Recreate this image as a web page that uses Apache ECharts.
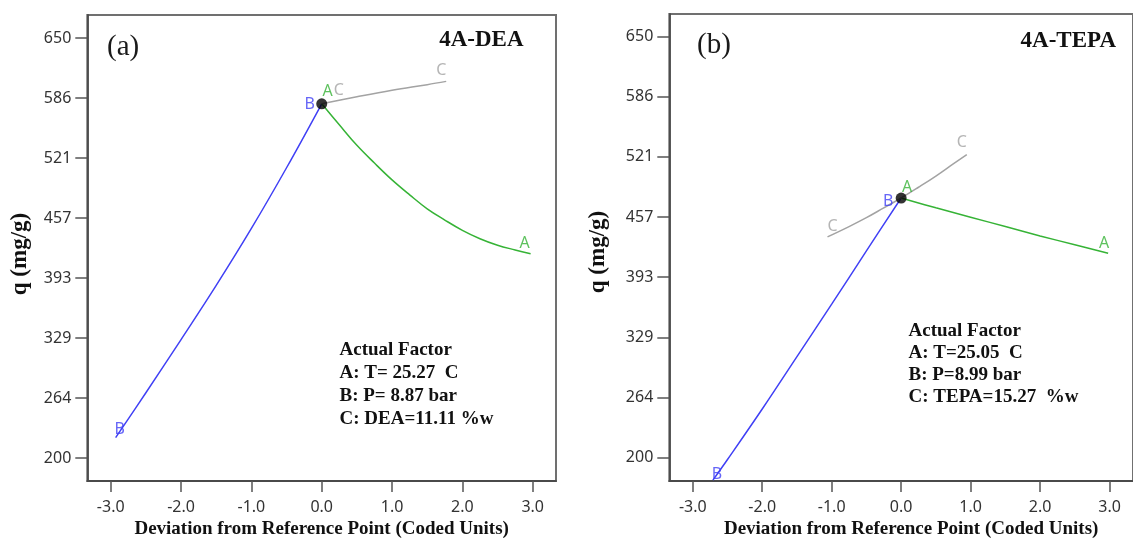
<!DOCTYPE html>
<html>
<head>
<meta charset="utf-8">
<script src="https://cdn.jsdelivr.net/npm/echarts@6/dist/echarts.min.js"></script>
<style>
  html, body { margin: 0; padding: 0; background: #fff; }
  #chart { width: 1133px; height: 544px; }
</style>
</head>
<body>
<div id="chart"></div>
<script>
// Perturbation plots: q (mg/g) vs deviation from the reference point (coded units)

// Axis ticks
const xTicks = [-3, -2, -1, 0, 1, 2, 3];
const yTickLabels = [200, 264, 329, 393, 457, 521, 586, 650];

// (a) 4A-DEA
const aB_x = [-2.93, -2.5, -2.0, -1.5, -1.0, -0.5, 0];
const aB_q = [222, 270, 327, 385, 446, 511, 579.5];
const aA_x = [0, 0.25, 0.5, 0.75, 1.0, 1.25, 1.5, 1.75, 2.0, 2.25, 2.5, 2.75, 2.97];
const aA_q = [579.5, 557, 535, 516, 498, 482, 467, 455, 444, 435, 428, 423, 419];
const aC_x = [0, 0.5, 1.0, 1.5, 1.77];
const aC_q = [579.5, 587, 594, 600, 603.5];
const aRef = [0, 579.5];
const aFactors = ['Actual Factor', 'A: T= 25.27  C', 'B: P= 8.87 bar', 'C: DEA=11.11 %w'];

// (b) 4A-TEPA
const bB_x = [-2.71, -2.5, -2.0, -1.5, -1.0, -0.5, 0];
const bB_q = [176, 198, 252, 308, 364, 421, 477.5];
const bA_x = [0, 0.5, 1.0, 1.5, 2.0, 2.5, 2.98];
const bA_q = [477.5, 467, 457, 447, 437, 427.5, 418.5];
const bC_x = [-1.06, -0.75, -0.5, -0.25, 0, 0.25, 0.5, 0.75, 0.945];
const bC_q = [436, 447, 456.5, 467, 477.5, 489, 501, 514, 524];
const bRef = [0, 477.5];
const bFactors = ['Actual Factor', 'A: T=25.05  C', 'B: P=8.99 bar', 'C: TEPA=15.27  %w'];

const COL = { A: '#36b336', B: '#4040f5', C: '#a3a3a3' };
const SERIF = '"Liberation Serif", "Times New Roman", serif';
const SANS = '"Noto Sans", "Open Sans", sans-serif';

const yTickValues = yTickLabels.map((_, i) =>
  yTickLabels[0] + i * (yTickLabels[yTickLabels.length - 1] - yTickLabels[0]) / (yTickLabels.length - 1));

const zip = (xs, ys) => xs.map((x, i) => [x, ys[i]]);

function xAxisFor(idx, min, max, shift) {
  return {
    type: 'value', gridIndex: idx, min: min, max: max,
    splitLine: { show: false },
    axisLine: { show: true, onZero: false, lineStyle: { color: '#4a4a4a', width: 1.8 } },
    axisTick: { show: true, customValues: xTicks, length: 11, lineStyle: { color: '#555', width: 1.5 } },
    axisLabel: { customValues: xTicks, margin: 18, color: '#333', fontFamily: SANS, fontSize: 16,
                 formatter: v => v.toFixed(1) },
    name: 'Deviation from Reference Point (Coded Units)',
    nameLocation: 'middle', nameGap: 36,
    nameTextStyle: { fontFamily: SERIF, fontWeight: 'bold', fontSize: 19, color: '#111',
                     padding: [0, 0, 0, shift] }
  };
}
function yAxisFor(idx, min, max) {
  return {
    type: 'value', gridIndex: idx, min: min, max: max,
    splitLine: { show: false },
    axisLine: { show: true, onZero: false, lineStyle: { color: '#4a4a4a', width: 1.8 } },
    axisTick: { show: true, customValues: yTickValues, length: 12, lineStyle: { color: '#555', width: 1.5 } },
    axisLabel: { customValues: yTickValues, margin: 16, color: '#333', fontFamily: SANS, fontSize: 16,
                 formatter: v => String(Math.round(v)) }
  };
}

function lineSeries(idx, name, xs, ys) {
  return {
    type: 'line', name: name, xAxisIndex: idx, yAxisIndex: idx,
    data: zip(xs, ys), smooth: 0.4, showSymbol: false, symbol: 'none',
    lineStyle: { color: COL[name], width: 1.5 }, z: 3, silent: true
  };
}

// end labels placed at the first and last point of each trace
function endLabels(idx, traces) {
  const data = [];
  traces.forEach(t => {
    const n = t.x.length - 1;
    data.push({ name: t.name, value: [t.x[0], t.y[0]], label: { offset: t.o0, color: COL[t.name] } });
    data.push({ name: t.name, value: [t.x[n], t.y[n]], label: { offset: t.o1, color: COL[t.name] } });
  });
  return {
    type: 'scatter', xAxisIndex: idx, yAxisIndex: idx, data: data, clip: false,
    symbolSize: 2, itemStyle: { color: 'rgba(0,0,0,0)' }, z: 5, silent: true,
    label: { show: true, position: 'inside', formatter: '{b}', fontFamily: SANS, fontSize: 16 }
  };
}

function refDot(idx, p) {
  return {
    type: 'scatter', xAxisIndex: idx, yAxisIndex: idx, data: [p],
    symbol: 'circle', symbolSize: 11, itemStyle: { color: '#000' }, z: 6, silent: true
  };
}

function txt(x, y, text, font, opts) {
  return Object.assign({
    type: 'text', x: x, y: y, silent: true,
    style: Object.assign({ text: text, font: font, fill: '#111', textAlign: 'left', textVerticalAlign: 'middle' },
                         (opts && opts.style) || {})
  }, opts && opts.rotation !== undefined ? { rotation: opts.rotation } : {});
}

const graphics = [
  txt(107, 47, '(a)', '29px ' + SERIF, { style: { fill: '#1a1a1a' } }),
  txt(523.5, 40, '4A-DEA', 'bold 23px ' + SERIF, { style: { textAlign: 'right' } }),
  txt(697, 45, '(b)', '29px ' + SERIF, { style: { fill: '#1a1a1a' } }),
  txt(1116, 41, '4A-TEPA', 'bold 23px ' + SERIF, { style: { textAlign: 'right' } }),
  txt(20, 254, 'q (mg/g)', 'bold 23px ' + SERIF, { rotation: Math.PI / 2, style: { textAlign: 'center' } }),
  txt(598, 252, 'q (mg/g)', 'bold 23px ' + SERIF, { rotation: Math.PI / 2, style: { textAlign: 'center' } })
];
aFactors.forEach((s, i) => graphics.push(txt(339.5, 350 + i * 23, s, 'bold 19px ' + SERIF)));
bFactors.forEach((s, i) => graphics.push(txt(908.5, 331.5 + i * 22, s, 'bold 19px ' + SERIF)));

const option = {
  animation: false,
  backgroundColor: '#fff',
  grid: [
    { left: 87.3, top: 15, width: 468.7, height: 472.3, show: true, borderColor: '#707070', borderWidth: 2 },
    { left: 669.3, top: 14, width: 474.7, height: 474.5, show: true, borderColor: '#707070', borderWidth: 2 }
  ],
  xAxis: [xAxisFor(0, -3.333, 3.331, 0), xAxisFor(1, -3.338, 3.338, 20)],
  yAxis: [yAxisFor(0, 175.4, 674.6), yAxisFor(1, 174.9, 674.2)],
  series: [
    lineSeries(0, 'B', aB_x, aB_q),
    lineSeries(0, 'A', aA_x, aA_q),
    lineSeries(0, 'C', aC_x, aC_q),
    refDot(0, aRef),
    endLabels(0, [
      { name: 'B', x: aB_x, y: aB_q, o0: [4, -8], o1: [-12, 1] },
      { name: 'A', x: aA_x, y: aA_q, o0: [6, -12], o1: [-6, -10] },
      { name: 'C', x: aC_x, y: aC_q, o0: [17, -13], o1: [-5, -11] }
    ]),
    lineSeries(1, 'B', bB_x, bB_q),
    lineSeries(1, 'A', bA_x, bA_q),
    lineSeries(1, 'C', bC_x, bC_q),
    refDot(1, bRef),
    endLabels(1, [
      { name: 'B', x: bB_x, y: bB_q, o0: [4, -6], o1: [-13, 3] },
      { name: 'A', x: bA_x, y: bA_q, o0: [6, -11], o1: [-4, -10] },
      { name: 'C', x: bC_x, y: bC_q, o0: [5, -10], o1: [-5, -12] }
    ])
  ],
  graphic: graphics
};

const chart = echarts.init(document.getElementById('chart'), null, { renderer: 'canvas' });
chart.setOption(option);
</script>
</body>
</html>
